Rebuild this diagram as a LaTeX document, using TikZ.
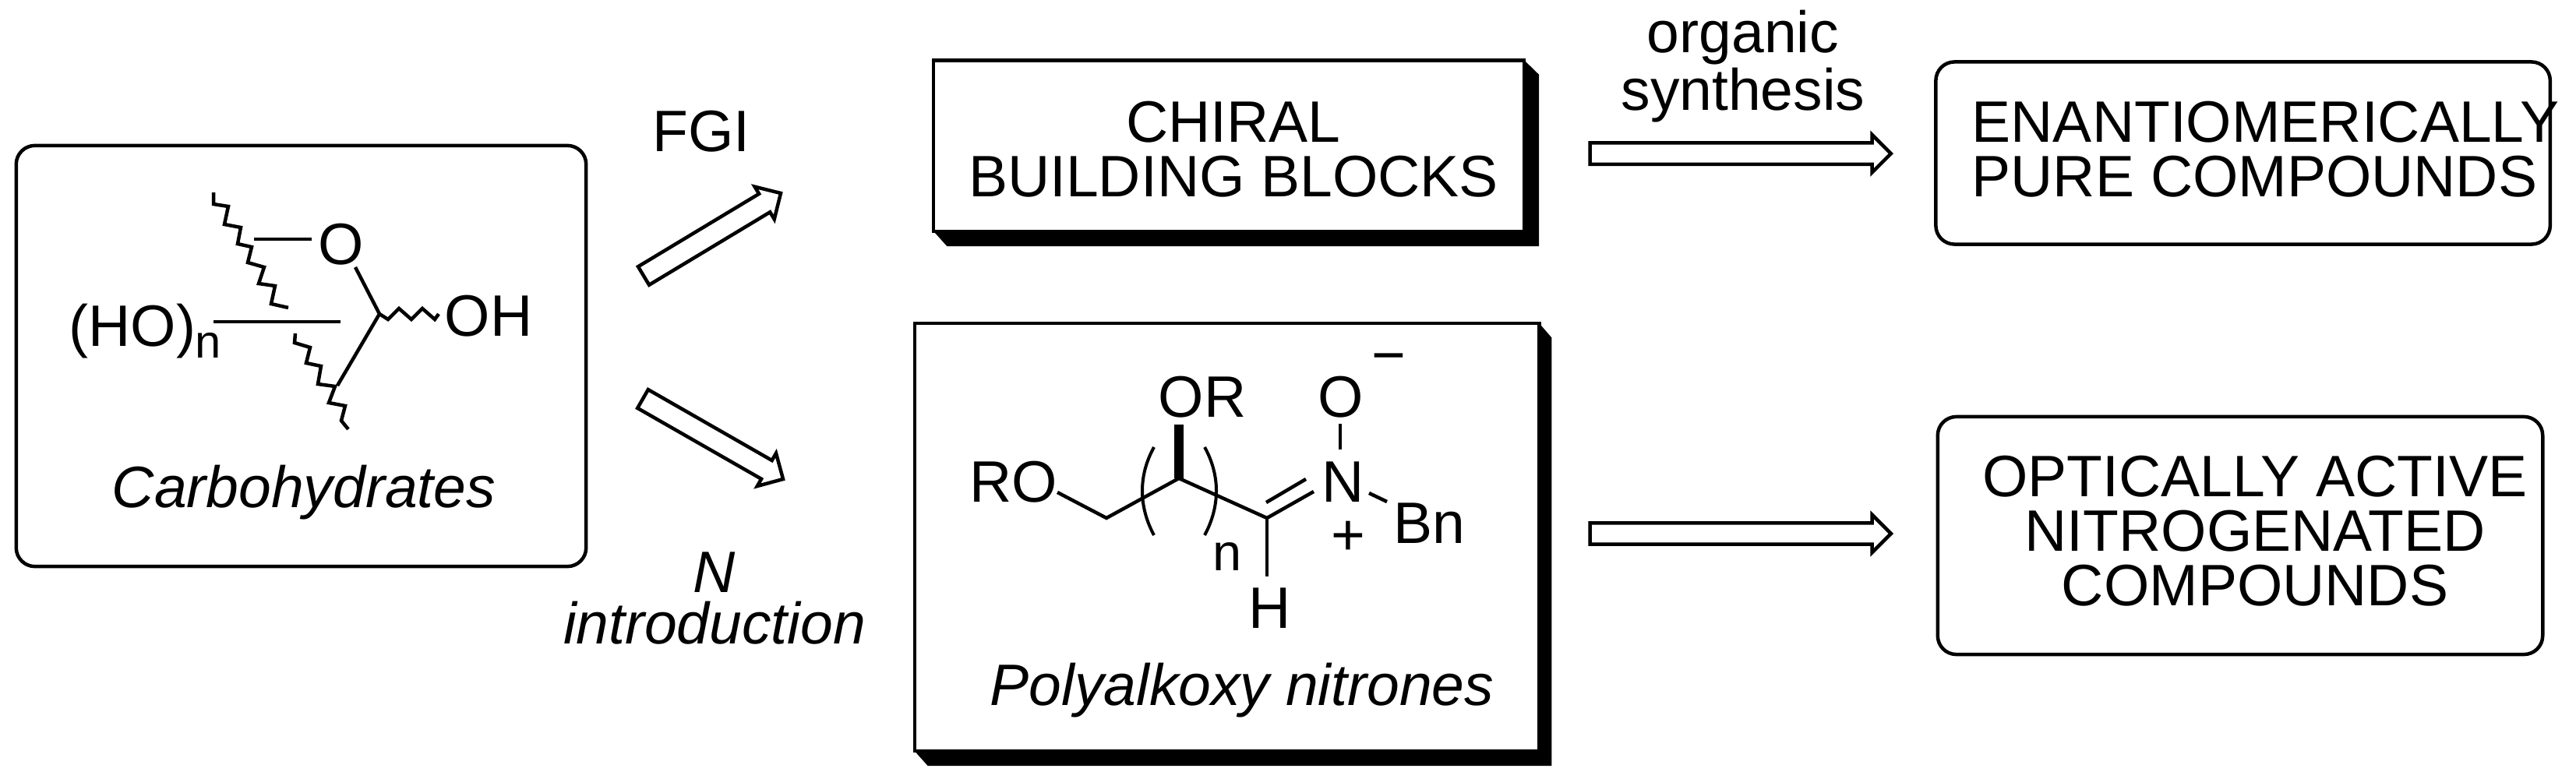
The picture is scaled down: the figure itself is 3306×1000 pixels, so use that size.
\documentclass[tikz,border=0pt]{standalone}
\usepackage{fontspec}
\setmainfont{Liberation Sans}
\usetikzlibrary{calc}
\tikzset{
	lbl/.style={inner sep=0,font=\fontsize{21.34pt}{19.9pt}\selectfont},
	ilbl/.style={inner sep=0,font=\fontsize{21.34pt}{18.8pt}\selectfont\itshape},
	smalln/.style={inner sep=0,font=\fontsize{#1}{#1}\selectfont},
	bond/.style={line width=0.045cm},
	hollow/.style={line width=0.045cm,fill=white},
	sqbox/.style={draw,line width=0.045cm,inner sep=0,outer sep=0},
	rdbox/.style={sqbox,rounded corners=0.24cm},
}
% block arrow between two named points
\newcommand{\hollowarrow}[2]{
	\coordinate (T) at ($(#2)!0.243cm!(#1)$);
	\draw [hollow] ($(#1)!0.137cm!90:(#2)$) -- ($(T)!0.137cm!90:(#2)$) -- ($(T)!0.243cm!90:(#2)$) -- (#2)
		-- ($(T)!0.243cm!-90:(#2)$) -- ($(T)!0.137cm!-90:(#2)$) -- ($(#1)!0.137cm!-90:(#2)$) -- cycle;
}
\newcommand{\boxshadow}[3]{
	\fill (#1.north east) -- ++(#2,18.5) -- ($(#1.south east)+(#2,19)$) -- ($(#1.south west)+(#3,19)$)
		-- (#1.south west) -- (#1.south east) -- cycle;
}
\begin{document}
\begin{tikzpicture}[x=0.01cm,y=-0.01cm]
	\useasboundingbox (0,0) rectangle (3306,1000);
	% boxes
	\node [rdbox,minimum width=7.31cm,minimum height=5.40cm] (carb) at (386.5,457) {};
	\node [sqbox,minimum width=7.575cm,minimum height=2.195cm] (chiral) at (1577.2,187.2) {};
	\node [sqbox,minimum width=8.01cm,minimum height=5.49cm] (nitrone) at (1574.5,689.5) {};
	\node [rdbox,minimum width=7.88cm,minimum height=2.34cm] (pure) at (2878.6,196.5) {};
	\node [rdbox,minimum width=7.76cm,minimum height=3.05cm] (active) at (2875,687.5) {};
	\boxshadow{chiral}{19}{17}
	\boxshadow{nitrone}{16}{17}
	% box texts
	\node [lbl,align=center] (chiraltxt) at (1583,192) {CHIRAL\\BUILDING BLOCKS};
	\node [lbl,align=left,anchor=west] (puretxt) at (2530,192) {ENANTIOMERICALLY\\PURE COMPOUNDS};
	\node [lbl,align=center] (activetxt) at (2894,682) {OPTICALLY ACTIVE\\NITROGENATED\\COMPOUNDS};
	% arrows
	\coordinate (A1) at (826,354);
	\coordinate (A2) at (1002,248);
	\coordinate (B1) at (825,512);
	\coordinate (B2) at (1005,615);
	\coordinate (C1) at (2040.5,197.2);
	\coordinate (C2) at (2426.8,197.2);
	\coordinate (D1) at (2040.5,685);
	\coordinate (D2) at (2426.8,685);
	\hollowarrow{A1}{A2}
	\hollowarrow{B1}{B2}
	\hollowarrow{C1}{C2}
	\hollowarrow{D1}{D2}
	\node [lbl,anchor=base] (fgi) at (900,194) {FGI};
	\node [lbl,align=center,font=\fontsize{21.34pt}{21pt}\selectfont] (orgsyn) at (2237,85) {organic\\synthesis};
	\node [ilbl,align=center] (nintro) at (917,768.5) {N\\introduction};
	% carbohydrate
	\coordinate (P) at (487,403);
	\coordinate (Q) at (433,495);
	\draw [bond] (326,307) to (400,307);
	\draw [bond] (456,343) to (P) to (Q);
	\draw [bond] (274,413) to (437,413);
	\draw [bond] (274,247) -- (274,262) -- (293,265) -- (288,288) -- (309,292) -- (305,313) -- (323,317)
		-- (318,337) -- (339,343) -- (332,364) -- (353,367) -- (348,390) -- (370,395);
	\draw [bond] (379,428) -- (378,440) -- (398,446) -- (393,466) -- (412,470) -- (408,493) -- (430,496)
		-- (422,517) -- (443,521) -- (438,540) -- (447,551);
	\draw [bond] (P) -- (498,410) -- (512,396) -- (528,410) -- (542,396) -- (558,410) -- (563,403);
	\node [lbl,anchor=base] (ringo) at (438,339) {O};
	\node [lbl,anchor=base west] (oh) at (570,431) {OH};
	\node [lbl,anchor=base west] (ho) at (88,444) {(HO)};
	\node [smalln=17pt,anchor=base west] (hon) at (250,459) {n};
	\node [ilbl,anchor=base] (carbtxt) at (390,651) {Carbohydrates};
	% nitrone
	\coordinate (E) at (1420,665);
	\coordinate (F) at (1513,614);
	\coordinate (G) at (1626,665);
	\draw [bond] (1357,632) to (E) to (F) to (G) to (1686,631);
	\draw [bond] (1625,645) to (1676,615);
	\draw [bond] (G) to (1626,740);
	\draw [line width=0.125cm] (1513,545) to (F);
	\draw [bond] (1720,544) to (1720,577);
	\draw [bond] (1757,633) to (1780,644);
	\draw [line width=0.04cm] (1481,574) .. controls (1461,610) and (1461,650) .. (1481,687);
	\draw [line width=0.04cm] (1546,574) .. controls (1566,610) and (1566,650) .. (1546,687);
	\node [lbl,anchor=base west] (ro) at (1244,644) {RO};
	\node [lbl,anchor=base west] (or) at (1486,535) {OR};
	\node [lbl,anchor=base] (oxy) at (1721,535) {O};
	\node [lbl,anchor=base] (nit) at (1724,644) {N};
	\node [lbl,anchor=base west] (bn) at (1788,697) {Bn};
	\node [lbl,anchor=base] (hyd) at (1630,806) {H};
	\node [smalln=19pt,anchor=base] (polyn) at (1575,732) {n};
	\node [lbl,anchor=base] (minus) at (1782,481) {−};
	\node [lbl,anchor=base] (plus) at (1730,712) {+};
	\node [ilbl,anchor=base] (nitronetxt) at (1594,905) {Polyalkoxy nitrones};
\end{tikzpicture}
\end{document}
